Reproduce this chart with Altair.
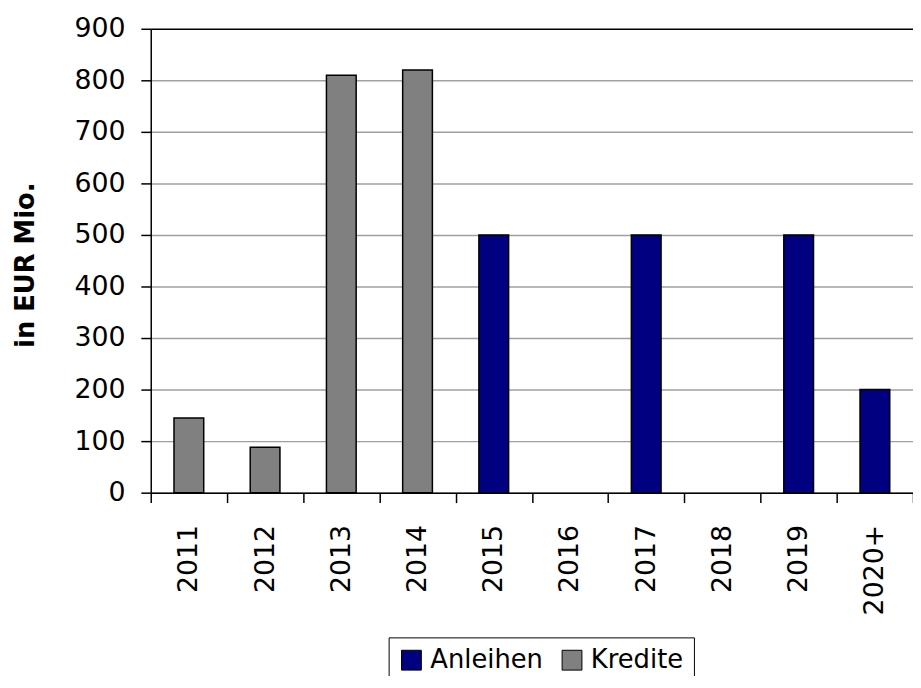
import altair as alt
import pandas as pd

years = ["2011", "2012", "2013", "2014", "2015", "2016", "2017", "2018", "2019", "2020+"]
anleihen = [0, 0, 0, 0, 500, 0, 500, 0, 500, 200]
kredite = [145, 88, 810, 820, 0, 0, 0, 0, 0, 0]
series = ["Anleihen", "Kredite"]
colors = ["#000080", "#808080"]
y_ticks = list(range(0, 1000, 100))

rows = []
for y, a, k in zip(years, anleihen, kredite):
    rows.append({"year": y, "series": "Anleihen", "value": a})
    rows.append({"year": y, "series": "Kredite", "value": k})
df = pd.DataFrame(rows)

FONT = "DejaVu Sans"

chart = (
    alt.Chart(df)
    .transform_filter("datum.value > 0")
    .mark_bar(width=alt.RelativeBandSize(0.39), stroke="black", strokeWidth=1.5)
    .encode(
        x=alt.X(
            "year:N",
            sort=years,
            scale=alt.Scale(domain=years, paddingInner=0, paddingOuter=0),
            axis=alt.Axis(
                title=None,
                labelAngle=-90,
                tickBand="extent",
                tickSize=10,
                tickWidth=1.5,
                tickColor="black",
                domainColor="black",
                domainWidth=1.5,
                labelPadding=22,
                labelFontSize=27,
                labelFont=FONT,
                labelColor="black",
                grid=False,
            ),
        ),
        y=alt.Y(
            "value:Q",
            scale=alt.Scale(domain=[0, 900]),
            axis=alt.Axis(
                values=y_ticks,
                title="in EUR Mio.",
                titleFont=FONT,
                titleFontSize=26,
                titleFontWeight="bold",
                titleColor="black",
                titleX=-126,
                titleY=238,
                titleAlign="center",
                titleBaseline="middle",
                titleAngle=270,
                tickSize=10,
                tickWidth=1.5,
                tickColor="black",
                domainColor="black",
                domainWidth=1.5,
                labelPadding=16,
                labelFontSize=27,
                labelFont=FONT,
                labelColor="black",
                grid=True,
                gridWidth=1.5,
                gridColor={"condition": {"test": "datum.value === 900", "value": "black"}, "value": "#a0a0a0"},
            ),
        ),
        color=alt.Color(
            "series:N",
            scale=alt.Scale(domain=series, range=colors),
            title=None,
            legend=alt.Legend(
                orient="none",
                legendX=240,
                legendY=614,
                direction="horizontal",
                columns=2,
                strokeColor="black",
                fillColor="white",
                padding=10,
                symbolType="square",
                symbolSize=400,
                symbolStrokeColor="black",
                symbolStrokeWidth=1,
                labelFontSize=26,
                labelFont=FONT,
                labelColor="black",
                labelOffset=6,
                columnPadding=16,
            ),
        ),
    )
    .properties(
        width=769,
        height=468,
        autosize=alt.AutoSizeParams(type="none"),
        padding={"left": 144, "top": 18, "right": 0, "bottom": 182},
    )
    .configure_view(stroke=None)
)

chart.save("out.html", embed_options={"renderer": "svg", "actions": False})
